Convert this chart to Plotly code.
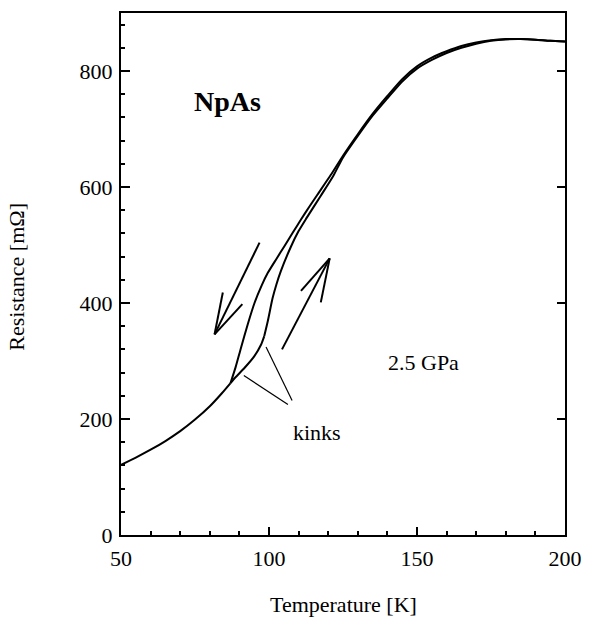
import plotly.graph_objects as go

# ---- data ----
T_low = [50, 55, 60, 65, 70, 75, 80, 84, 87]
R_low = [121, 133.5, 147, 162, 179, 199, 222, 244, 262]

# cooling branch (left / upper branch)
T_cool = [87, 88.7, 90.5, 92.8, 95.1, 97.5, 99.6, 102.5, 105.2, 108, 110.8, 113.5,
          116.4, 120.9, 125, 130, 135, 140, 145, 150, 155, 160, 165, 170, 175, 180,
          185, 190, 195, 200]
R_cool = [262, 289, 322, 363, 400, 430, 452, 476, 498, 521, 544, 565,
          587, 621, 654, 691, 726, 757, 786, 808, 823, 834, 843, 849, 853, 855,
          855, 854, 852, 851]

# heating branch before the kink
T_heat_a = [87, 88.7, 91.7, 95, 97.3, 98.4]
R_heat_a = [262, 272, 288, 308, 328, 343]
# heating branch after the kink
T_heat_b = [98.4, 99.6, 101.2, 102.5, 104, 107.4, 110, 112.5, 117.5, 121.8, 125, 130,
            135, 140, 145, 150, 155, 160, 165, 170, 175, 180, 185, 190, 195, 200]
R_heat_b = [343, 369, 408, 432, 455, 497, 524, 545, 585, 620, 651, 688,
            723, 753, 782, 804, 819, 831, 840, 847, 852, 854.5, 855, 854, 852, 851]

x_ticks = [50, 100, 150, 200]
y_ticks = [0, 200, 400, 600, 800]
y_right_ticks = [200, 400, 600, 800]

# annotation strokes (arrows and kink pointers), in data units: (T0, R0, T1, R1)
arrow_strokes = [
    (96.8, 504, 81.6, 346), (81.6, 346, 84.4, 418), (81.6, 346, 91.0, 398),
    (104.4, 320, 120.5, 477), (120.5, 477, 110.8, 421), (120.5, 477, 117.5, 401),
]
kink_strokes = [(91.5, 275, 106.4, 225), (99.0, 324, 107.8, 232)]

FONT = "Liberation Serif"
SIZE = 22
line = dict(color="black", width=2)

fig = go.Figure()
for tx, ry in [(T_low, R_low), (T_cool, R_cool), (T_heat_a, R_heat_a), (T_heat_b, R_heat_b)]:
    fig.add_trace(go.Scatter(x=tx, y=ry, mode="lines", line=dict(shape="spline", smoothing=0.6, **line),
                             showlegend=False, hoverinfo="skip"))
# dummy trace so the right-side tick axis is drawn
fig.add_trace(go.Scatter(x=[50], y=[0], yaxis="y2", mode="markers", marker=dict(opacity=0),
                         showlegend=False, hoverinfo="skip"))

shapes = []
for (a, b, c, d) in arrow_strokes:
    shapes.append(dict(type="line", xref="x", yref="y", x0=a, y0=b, x1=c, y1=d,
                       line=dict(color="black", width=2)))
for (a, b, c, d) in kink_strokes:
    shapes.append(dict(type="line", xref="x", yref="y", x0=a, y0=b, x1=c, y1=d,
                       line=dict(color="black", width=1.2)))

annotations = [
    dict(x=86.0, y=747, xref="x", yref="y", text="<b>NpAs</b>", showarrow=False,
         font=dict(family=FONT, size=28, color="black")),
    dict(x=152.1, y=297, xref="x", yref="y", text="2.5 GPa", showarrow=False,
         font=dict(family=FONT, size=SIZE, color="black")),
    dict(x=116.3, y=177, xref="x", yref="y", text="kinks", showarrow=False,
         font=dict(family=FONT, size=SIZE, color="black")),
    dict(x=0.5, y=-0.134, xref="paper", yref="paper", text="Temperature [K]", showarrow=False,
         yanchor="middle", font=dict(family=FONT, size=SIZE, color="black")),
    dict(x=-0.234, y=0.495, xref="paper", yref="paper", text="Resistance [mΩ]", showarrow=False,
         textangle=-90, xanchor="center", yanchor="middle",
         font=dict(family=FONT, size=SIZE, color="black")),
]

fig.update_layout(
    width=593, height=623,
    margin=dict(l=121, r=18, t=11, b=88),
    paper_bgcolor="white", plot_bgcolor="white",
    font=dict(family=FONT, size=SIZE, color="black"),
    shapes=shapes, annotations=annotations,
    xaxis=dict(range=[50, 200], tickvals=x_ticks, ticks="inside", ticklen=8, tickwidth=1.5,
               tickcolor="black", showgrid=False, zeroline=False, showline=True, linecolor="black",
               linewidth=2, mirror=True, ticklabelstandoff=3,
               minor=dict(dtick=10, tick0=50, ticks="inside", ticklen=4, tickwidth=1.5,
                          tickcolor="black", showgrid=False),
               tickfont=dict(family=FONT, size=SIZE, color="black")),
    yaxis=dict(range=[0, 900], tickvals=y_ticks, ticks="inside", ticklen=9, tickwidth=1.5,
               tickcolor="black", showgrid=False, zeroline=False, showline=True, linecolor="black",
               linewidth=2, mirror=True, ticklabelstandoff=2,
               minor=dict(dtick=40, tick0=0, ticks="inside", ticklen=4, tickwidth=1.5,
                          tickcolor="black", showgrid=False),
               tickfont=dict(family=FONT, size=SIZE, color="black")),
    yaxis2=dict(range=[0, 900], overlaying="y", side="right", tickvals=y_right_ticks,
                ticks="inside", ticklen=8, tickwidth=1.5, tickcolor="black", showticklabels=False,
                showgrid=False, zeroline=False, showline=False),
)

fig.write_html("out.html")
